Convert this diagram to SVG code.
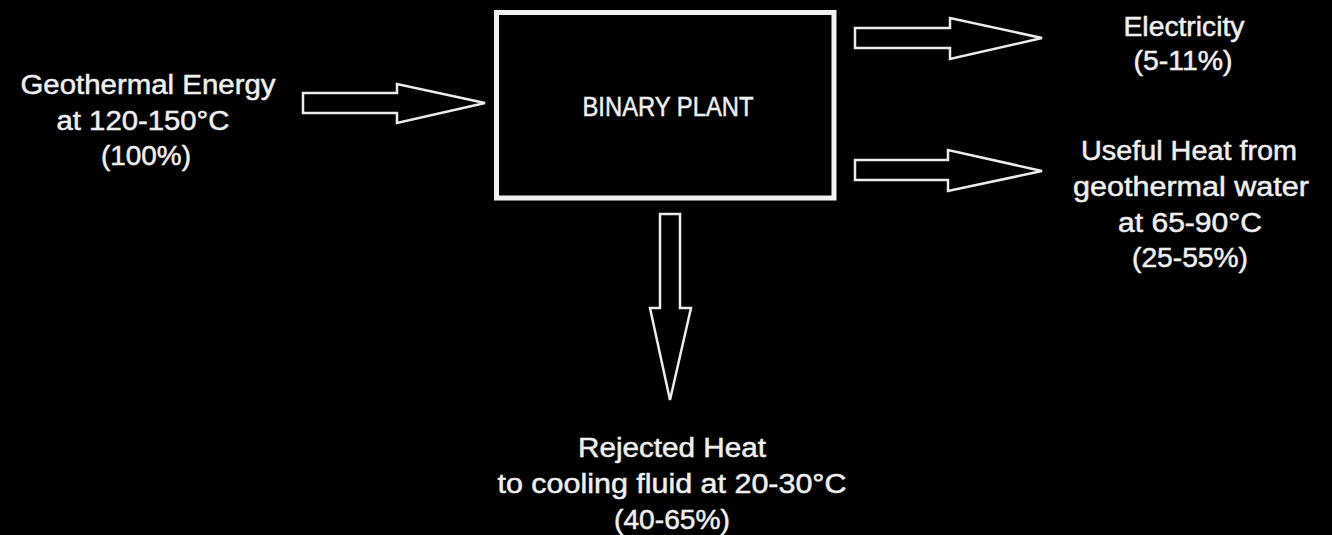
<svg xmlns="http://www.w3.org/2000/svg" width="1332" height="535" viewBox="0 0 1332 535">
  <style>
    .bg { fill: #000000; }
    .box { fill: none; stroke: #f2f2f2; stroke-width: 5; }
    .arrow { fill: none; stroke: #ececec; stroke-width: 2.5; stroke-linejoin: miter; }
    .lbl { font-family: "Liberation Sans", Arial, sans-serif; font-size: 27px; fill: #efefef; stroke: #efefef; stroke-width: 0.5; text-anchor: middle; }
  </style>
  <rect class="bg" x="0" y="0" width="1332" height="535"/>

  <g id="source">
    <text class="lbl" x="148" y="94" textLength="255" lengthAdjust="spacingAndGlyphs">Geothermal Energy</text>
    <text class="lbl" x="143" y="130" textLength="173" lengthAdjust="spacingAndGlyphs">at 120-150°C</text>
    <text class="lbl" x="146" y="165" textLength="90" lengthAdjust="spacingAndGlyphs">(100%)</text>
  </g>

  <g id="binary-plant">
    <rect class="box" x="496.5" y="12.5" width="337.5" height="185.5"/>
    <text class="lbl" x="668" y="116" textLength="171" lengthAdjust="spacingAndGlyphs">BINARY PLANT</text>
  </g>

  <g id="electricity">
    <text class="lbl" x="1184" y="36" textLength="121" lengthAdjust="spacingAndGlyphs">Electricity</text>
    <text class="lbl" x="1183" y="70" textLength="99" lengthAdjust="spacingAndGlyphs">(5-11%)</text>
  </g>

  <g id="useful-heat">
    <text class="lbl" x="1189" y="160" textLength="216" lengthAdjust="spacingAndGlyphs">Useful Heat from</text>
    <text class="lbl" x="1191" y="196" textLength="236" lengthAdjust="spacingAndGlyphs">geothermal water</text>
    <text class="lbl" x="1190" y="232" textLength="144" lengthAdjust="spacingAndGlyphs">at 65-90°C</text>
    <text class="lbl" x="1190" y="267" textLength="116" lengthAdjust="spacingAndGlyphs">(25-55%)</text>
  </g>

  <g id="rejected-heat">
    <text class="lbl" x="672" y="457" textLength="188" lengthAdjust="spacingAndGlyphs">Rejected Heat</text>
    <text class="lbl" x="672" y="493" textLength="349" lengthAdjust="spacingAndGlyphs">to cooling fluid at 20-30°C</text>
    <text class="lbl" x="672" y="529" textLength="116" lengthAdjust="spacingAndGlyphs">(40-65%)</text>
  </g>

  <g id="connectors">
    <polygon class="arrow" points="303,93 397,93 397,84 485,103 397,123 397,113 303,113"/>
    <polygon class="arrow" points="855,28 950,28 950,18 1042,38 950,59 950,48 855,48"/>
    <polygon class="arrow" points="855,160 948,160 948,150 1042,171 948,191 948,180 855,180"/>
    <polygon class="arrow" points="660,214 660,308 650,308 670,400 691,308 680,308 680,214"/>
  </g>
</svg>
